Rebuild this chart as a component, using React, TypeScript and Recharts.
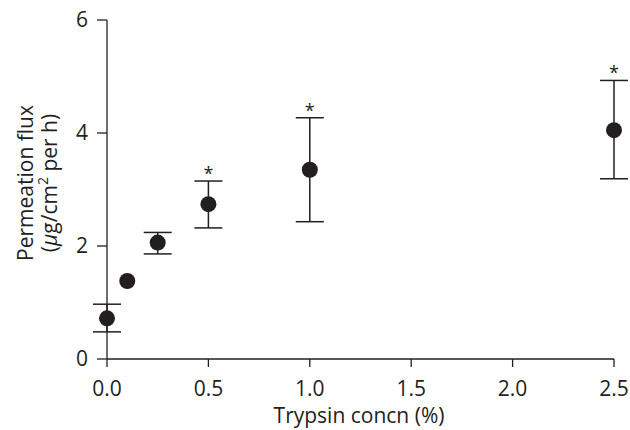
import React from 'react';
import { ScatterChart, Scatter, XAxis, YAxis, ErrorBar } from 'recharts';

// trypsin concentration (%)
const concn = [0, 0.1, 0.25, 0.5, 1.0, 2.5];
// mean permeation flux (µg/cm² per h)
const flux = [0.72, 1.38, 2.06, 2.74, 3.35, 4.05];
// error bar ends (null: bar hidden behind the dot)
const errLow: (number | null)[] = [0.48, null, 1.86, 2.32, 2.43, 3.19];
const errHigh: (number | null)[] = [0.97, null, 2.24, 3.15, 4.27, 4.93];
// significance marks
const significant = [false, false, false, true, true, true];

const xTicks = [0, 0.5, 1.0, 1.5, 2.0, 2.5];
const yTicks = [0, 2, 4, 6];

const INK = '#231f20';
const FONT = '"Open Sans", "Noto Sans", sans-serif';
const FS = 21;

const points = concn.map((x, i) => {
  const lo = errLow[i];
  const hi = errHigh[i];
  return {
    x,
    y: flux[i],
    err: lo == null || hi == null ? undefined : [flux[i] - lo, hi - flux[i]],
  };
});

const stars = concn
  .map((x, i) => ({ x, y: errHigh[i] ?? flux[i], show: significant[i] }))
  .filter(p => p.show);

const Dot = (props: any) => {
  const { cx, cy } = props;
  return <circle cx={cx} cy={cy} r={8} fill={INK} />;
};

const Star = (props: any) => {
  const { cx, cy } = props;
  return (
    <text x={cx} y={cy - 1} textAnchor="middle" fontSize={18} fontFamily={FONT} fill={INK}>
      *
    </text>
  );
};

// two-line rotated title; baselines at x=33 and x=57
const YLabel = () => (
  <text
    transform="translate(0, 183) rotate(-90)"
    textAnchor="middle"
    fontSize={FS}
    fontFamily={FONT}
    fill={INK}
  >
    <tspan x={0} y={33}>Permeation flux</tspan>
    <tspan x={0} y={57}>
      (<tspan fontStyle="italic">μ</tspan>g/cm<tspan baselineShift="super" fontSize={14}>2</tspan> per h)
    </tspan>
  </text>
);

const XLabel = () => (
  <text x={359} y={423} textAnchor="middle" fontSize={FS} fontFamily={FONT} fill={INK}>
    Trypsin concn (%)
  </text>
);

export default function App() {
  const tick = { fontSize: FS, fontFamily: FONT, fill: INK };
  return (
    <div style={{ position: 'absolute', left: 0, top: 0, width: 630, height: 430, background: '#fff' }}>
      <ScatterChart width={630} height={430} margin={{ top: 20, right: 16, left: 0, bottom: 0 }}>
        <XAxis
          type="number"
          dataKey="x"
          domain={[0, 2.5]}
          ticks={xTicks}
          tickFormatter={(v: number) => v.toFixed(1)}
          height={71}
          tick={tick}
          tickSize={8}
          tickMargin={14}
          stroke={INK}
          strokeWidth={1.3}
          label={<XLabel />}
        />
        <YAxis
          type="number"
          dataKey="y"
          domain={[0, 6]}
          ticks={yTicks}
          width={107}
          tick={tick}
          tickSize={10}
          tickMargin={9}
          stroke={INK}
          strokeWidth={1.3}
          label={<YLabel />}
        />
        <Scatter data={points} shape={<Dot />} isAnimationActive={false}>
          <ErrorBar dataKey="err" direction="y" width={14} stroke={INK} strokeWidth={1.5} />
        </Scatter>
        <Scatter data={stars} shape={<Star />} isAnimationActive={false} />
      </ScatterChart>
    </div>
  );
}
